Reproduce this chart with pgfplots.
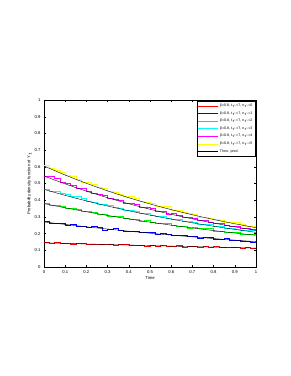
\documentclass[border=0pt]{standalone}
\usepackage{fontspec}
\setmainfont{Liberation Sans}
\usepackage{pgfplots}
\usepackage{pgfplotstable}
\pgfplotsset{compat=1.18}
\pgfplotstableread{
t y m c g b r
0 0.608 0.543 0.467 0.383 0.272 0.146
0.025 0.589 0.541 0.453 0.370 0.263 0.142
0.05 0.582 0.533 0.451 0.369 0.263 0.146
0.075 0.565 0.506 0.439 0.362 0.263 0.141
0.1 0.547 0.504 0.435 0.352 0.253 0.143
0.125 0.544 0.488 0.423 0.353 0.254 0.138
0.15 0.527 0.471 0.425 0.345 0.247 0.141
0.175 0.510 0.470 0.412 0.335 0.246 0.143
0.2 0.505 0.455 0.394 0.337 0.237 0.136
0.225 0.496 0.441 0.391 0.328 0.242 0.138
0.25 0.477 0.438 0.376 0.319 0.237 0.135
0.275 0.469 0.431 0.375 0.318 0.223 0.138
0.3 0.451 0.413 0.370 0.306 0.228 0.137
0.325 0.448 0.406 0.357 0.305 0.230 0.132
0.35 0.436 0.402 0.354 0.303 0.223 0.134
0.375 0.423 0.384 0.341 0.294 0.215 0.135
0.4 0.421 0.381 0.343 0.286 0.217 0.128
0.425 0.413 0.374 0.332 0.286 0.215 0.133
0.45 0.393 0.357 0.322 0.274 0.206 0.131
0.475 0.388 0.357 0.321 0.279 0.206 0.127
0.5 0.382 0.355 0.312 0.271 0.206 0.132
0.525 0.367 0.337 0.302 0.263 0.198 0.126
0.55 0.363 0.332 0.304 0.263 0.201 0.129
0.575 0.364 0.319 0.295 0.260 0.195 0.123
0.6 0.340 0.321 0.286 0.249 0.188 0.126
0.625 0.338 0.310 0.285 0.247 0.190 0.129
0.65 0.327 0.300 0.273 0.246 0.191 0.121
0.675 0.325 0.298 0.273 0.235 0.182 0.124
0.7 0.316 0.294 0.266 0.236 0.183 0.125
0.725 0.299 0.281 0.255 0.231 0.175 0.120
0.75 0.300 0.279 0.256 0.231 0.176 0.122
0.775 0.295 0.266 0.254 0.230 0.177 0.117
0.8 0.284 0.265 0.243 0.216 0.168 0.123
0.825 0.281 0.262 0.242 0.217 0.169 0.119
0.85 0.269 0.250 0.232 0.210 0.172 0.116
0.875 0.270 0.247 0.234 0.209 0.162 0.120
0.9 0.267 0.243 0.226 0.208 0.163 0.117
0.925 0.254 0.231 0.218 0.197 0.156 0.113
0.95 0.244 0.232 0.218 0.198 0.157 0.117
0.975 0.245 0.229 0.218 0.195 0.150 0.115
1 0.238 0.220 0.209 0.193 0.154 0.112
}\simdata
\pgfplotstableread{
t y m c g b r
0 0.6050 0.5450 0.4650 0.3800 0.2700 0.1450
0.05 0.5771 0.5207 0.4466 0.3671 0.2623 0.1432
0.1 0.5505 0.4976 0.4290 0.3546 0.2549 0.1414
0.15 0.5252 0.4754 0.4120 0.3425 0.2477 0.1397
0.2 0.5010 0.4543 0.3958 0.3308 0.2406 0.1380
0.25 0.4779 0.4341 0.3801 0.3195 0.2338 0.1363
0.3 0.4559 0.4148 0.3651 0.3086 0.2272 0.1346
0.35 0.4349 0.3963 0.3507 0.2981 0.2207 0.1329
0.4 0.4149 0.3787 0.3368 0.2880 0.2145 0.1313
0.45 0.3958 0.3619 0.3235 0.2781 0.2084 0.1297
0.5 0.3775 0.3458 0.3107 0.2686 0.2025 0.1281
0.55 0.3601 0.3304 0.2985 0.2595 0.1967 0.1265
0.6 0.3436 0.3157 0.2867 0.2506 0.1911 0.1250
0.65 0.3278 0.3017 0.2754 0.2421 0.1857 0.1234
0.7 0.3127 0.2883 0.2645 0.2338 0.1805 0.1219
0.75 0.2983 0.2754 0.2540 0.2259 0.1754 0.1204
0.8 0.2845 0.2632 0.2440 0.2182 0.1704 0.1190
0.85 0.2714 0.2515 0.2344 0.2107 0.1656 0.1175
0.9 0.2589 0.2403 0.2251 0.2035 0.1609 0.1160
0.95 0.2470 0.2296 0.2162 0.1966 0.1563 0.1146
1 0.2356 0.2194 0.2077 0.1899 0.1519 0.1132
}\theodata
\definecolor{mred}{rgb}{1,0,0}
\definecolor{mblue}{rgb}{0,0,1}
\definecolor{mgreen}{rgb}{0,1,0}
\definecolor{mcyan}{rgb}{0,1,1}
\definecolor{mmag}{rgb}{1,0,1}
\definecolor{myel}{rgb}{1,1,0}
\begin{document}
\begin{tikzpicture}
\useasboundingbox (-44pt,-109pt) rectangle (247pt,267pt);
\begin{axis}[
  scale only axis,
  width=212pt, height=167pt,
  xmin=0, xmax=1, ymin=0, ymax=1,
  xtick={0,0.1,...,1}, ytick={0,0.1,...,1},
  xticklabels={0,0.1,0.2,0.3,0.4,0.5,0.6,0.7,0.8,0.9,1},
  yticklabels={0,0.1,0.2,0.3,0.4,0.5,0.6,0.7,0.8,0.9,1},
  tick align=inside, tick pos=both,
  major tick length=2pt,
  tick style={line width=0.3pt, black},
  axis line style={line width=0.4pt},
  ticklabel style={font=\fontsize{4.2}{5}\selectfont},
  /pgf/number format/assume math mode=true,
  xlabel={Time}, ylabel={Probability density function of Y$_t$},
  label style={font=\fontsize{4.2}{5}\selectfont},
  xlabel style={yshift=4pt},
  ylabel style={yshift=-4pt},
  legend style={at={(0.998,0.996)}, anchor=north east, font=\fontsize{3.6}{4.5}\selectfont,
    draw=black, fill=white, line width=0.3pt, inner sep=1pt, row sep=-0.5pt,
    cells={anchor=west}},
  legend image code/.code={\draw[#1, sharp plot] (0cm,0cm) -- (0.7cm,0cm);},
]
\addplot[const plot, mred, line width=0.4pt] table[x=t,y=r]{\simdata};
\addlegendentry{β=0.8, t$_r$=7, n$_r$=0}
\addplot[const plot, mblue, line width=0.4pt] table[x=t,y=b]{\simdata};
\addlegendentry{β=0.8, t$_r$=7, n$_r$=1}
\addplot[const plot, mgreen, line width=0.4pt] table[x=t,y=g]{\simdata};
\addlegendentry{β=0.8, t$_r$=7, n$_r$=2}
\addplot[const plot, mcyan, line width=0.4pt] table[x=t,y=c]{\simdata};
\addlegendentry{β=0.8, t$_r$=7, n$_r$=3}
\addplot[const plot, mmag, line width=0.4pt] table[x=t,y=m]{\simdata};
\addlegendentry{β=0.8, t$_r$=7, n$_r$=4}
\addplot[const plot, myel, line width=0.4pt] table[x=t,y=y]{\simdata};
\addlegendentry{β=0.8, t$_r$=7, n$_r$=5}
\addplot[black, line width=0.4pt] table[x=t,y=r]{\theodata};
\addlegendentry{Theo. pred.}
\addplot[black, line width=0.4pt, forget plot] table[x=t,y=b]{\theodata};
\addplot[black, line width=0.4pt, forget plot] table[x=t,y=g]{\theodata};
\addplot[black, line width=0.4pt, forget plot] table[x=t,y=c]{\theodata};
\addplot[black, line width=0.4pt, forget plot] table[x=t,y=m]{\theodata};
\addplot[black, line width=0.4pt, forget plot] table[x=t,y=y]{\theodata};
\end{axis}
\end{tikzpicture}
\end{document}
